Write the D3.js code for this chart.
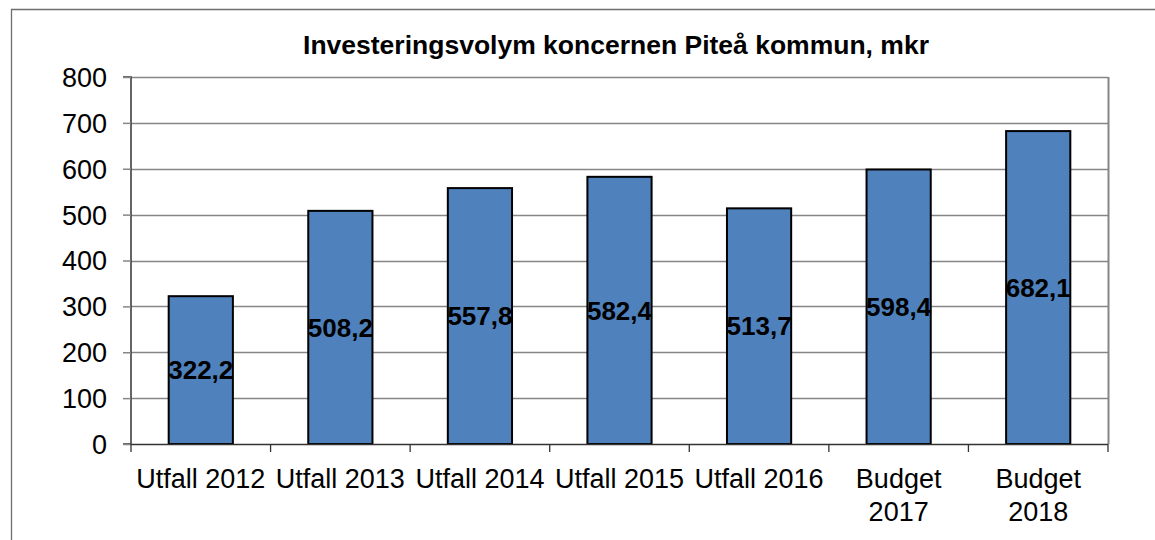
<!DOCTYPE html>
<html><head><meta charset="utf-8">
<script src="https://cdn.jsdelivr.net/npm/d3@7"></script>
<style>body{margin:0;background:#fff}svg{display:block}text{font-family:"Liberation Sans",Arial,sans-serif}</style>
</head><body>
<svg id="c" width="1155" height="540"></svg>
<script>
const categories = [["Utfall 2012"],["Utfall 2013"],["Utfall 2014"],["Utfall 2015"],["Utfall 2016"],["Budget","2017"],["Budget","2018"]];
const values = [322.2, 508.2, 557.8, 582.4, 513.7, 598.4, 682.1];
const valueLabels = ["322,2","508,2","557,8","582,4","513,7","598,4","682,1"];
const yTicks = [0,100,200,300,400,500,600,700,800];
const title = "Investeringsvolym koncernen Piteå kommun, mkr";

const svg = d3.select("#c");
const L = 131, R = 1108, T = 77, B = 444;
const ids = categories.map((d,i)=>i);
const x = d3.scaleBand().domain(ids).range([L,R]).paddingInner(0.54).paddingOuter(0.27);
const xb = d3.scaleBand().domain(ids).range([L,R]);
const y = d3.scaleLinear().domain([0,800]).range([B,T]);

// outer frame
svg.append("path").attr("d",`M11.5,545 V9.5 H1160`).attr("fill","none").attr("stroke","#6e6e6e").attr("stroke-width",1.3);

// gridlines
svg.append("g").selectAll("line").data(yTicks.filter(v=>v>0)).join("line")
  .attr("x1",L).attr("x2",R).attr("y1",d=>Math.round(y(d))+0.5).attr("y2",d=>Math.round(y(d))+0.5)
  .attr("stroke","#868686").attr("stroke-width",1.5);
// right border
svg.append("line").attr("x1",R+0.5).attr("x2",R+0.5).attr("y1",T).attr("y2",B).attr("stroke","#868686").attr("stroke-width",2);

// bars
svg.append("g").selectAll("rect").data(values).join("rect")
  .attr("x",(d,i)=>x(i)).attr("width",x.bandwidth())
  .attr("y",d=>y(d)).attr("height",d=>B-y(d))
  .attr("fill","#4f81bd").attr("stroke","#000").attr("stroke-width",2);

// y axis
const ya = d3.axisLeft(y).tickValues(yTicks).tickSize(8).tickPadding(16).tickFormat(d=>d);
const gy = svg.append("g").attr("transform",`translate(${L},0)`).call(ya);
gy.select(".domain").attr("stroke","#333").attr("stroke-width",1.5).attr("d",`M-8,${T}H0V${B}H-8`);
gy.selectAll(".tick line").attr("stroke","#868686").attr("stroke-width",1.5);
gy.selectAll(".tick text").attr("font-size",27).attr("fill","#000").attr("dy","0.35em");

// x axis
const gx = svg.append("g");
gx.append("line").attr("x1",L).attr("x2",R).attr("y1",B+0.5).attr("y2",B+0.5).attr("stroke","#333").attr("stroke-width",1.5);
const bounds = ids.map(i=>xb(i)).concat([R]);
gx.selectAll("line.t").data(bounds).join("line").attr("class","t")
  .attr("x1",d=>d).attr("x2",d=>d).attr("y1",B).attr("y2",B+8).attr("stroke","#333").attr("stroke-width",1.3);
gx.selectAll("text").data(categories).join("text")
  .attr("text-anchor","middle").attr("font-size",27).attr("fill","#000")
  .attr("transform",(d,i)=>`translate(${xb(i)+xb.bandwidth()/2},${488})`)
  .selectAll("tspan").data(d=>d).join("tspan").attr("x",0).attr("dy",(d,j)=>j?"1.22em":0).text(d=>d);

// value labels
svg.append("g").selectAll("text").data(values).join("text")
  .attr("x",(d,i)=>x(i)+x.bandwidth()/2).attr("y",d=>y(d/2)).attr("dy","0.35em")
  .attr("text-anchor","middle").attr("font-size",26).attr("font-weight","bold").attr("fill","#000")
  .text((d,i)=>valueLabels[i]);

// title
svg.append("text").attr("x",616).attr("y",54).attr("text-anchor","middle")
  .attr("font-size",26.5).attr("font-weight","bold").attr("fill","#000").text(title);
</script>
</body></html>
